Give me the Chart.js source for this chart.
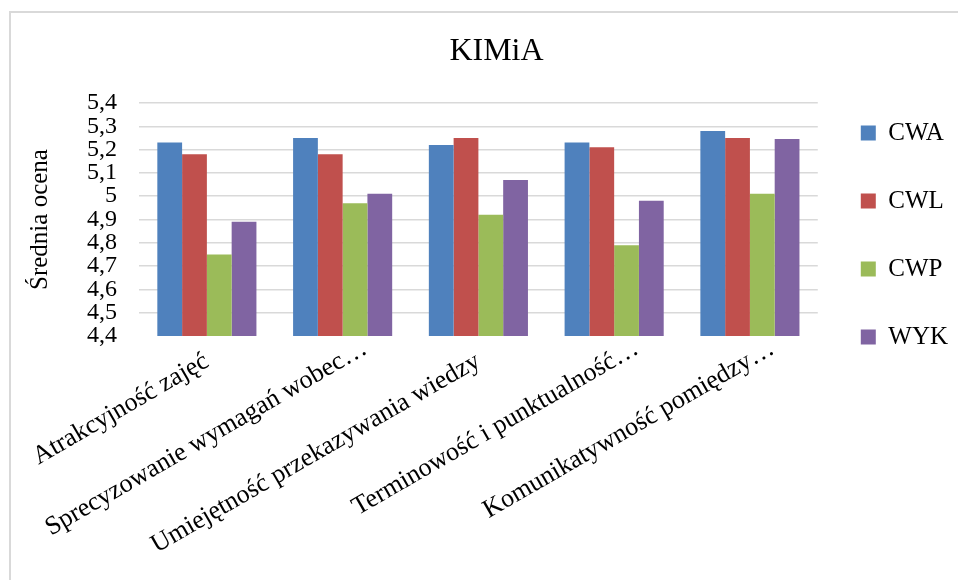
<!DOCTYPE html>
<html>
<head>
<meta charset="utf-8">
<script src="https://cdn.jsdelivr.net/npm/chart.js@4.4.1/dist/chart.umd.min.js"></script>
<style>
  html, body { margin: 0; padding: 0; background: #ffffff; }
  #wrap { width: 958px; height: 580px; position: relative; }
</style>
</head>
<body>
<div id="wrap"><canvas id="c" width="958" height="580"></canvas></div>
<script>
// Categories (survey questions) and the mean score per form of classes
const categories = [
  'Atrakcyjność zajęć',
  'Sprecyzowanie wymagań wobec…',
  'Umiejętność przekazywania wiedzy',
  'Terminowość i punktualność…',
  'Komunikatywność pomiędzy…'
];
const seriesNames = ['CWA', 'CWL', 'CWP', 'WYK'];
const cwa = [5.23, 5.25, 5.22, 5.23, 5.28];
const cwl = [5.18, 5.18, 5.25, 5.21, 5.25];
const cwp = [4.75, 4.97, 4.92, 4.79, 5.01];
const wyk = [4.89, 5.01, 5.07, 4.98, 5.245];
const colors = ['#4F81BD', '#C0504D', '#9BBB59', '#8064A2'];

const serif = '"Liberation Serif", "Times New Roman", serif';

// Light frame around the whole chart, plus white background
const framePlugin = {
  id: 'frame',
  beforeDraw(chart) {
    const ctx = chart.ctx;
    ctx.save();
    ctx.fillStyle = '#ffffff';
    ctx.fillRect(0, 0, chart.width, chart.height);
    ctx.strokeStyle = '#D9D9D9';
    ctx.lineWidth = 2;
    ctx.strokeRect(10, 12, chart.width + 40, chart.height + 40);
    ctx.restore();
  }
};

// Shortened category labels: let the trailing ellipsis hang past the tick,
// so the kept part of the text ends at the category centre
const ellipsisHang = {
  id: 'ellipsisHang',
  beforeDraw(chart) {
    const scale = chart.scales.x;
    const items = scale.getLabelItems();
    const ctx = chart.ctx;
    items.forEach(it => {
      if (typeof it.label === 'string' && it.label.endsWith('…') && !it._hung) {
        ctx.save();
        ctx.font = it.font.string;
        const w = ctx.measureText('…').width;
        ctx.restore();
        const a = it.options.rotation;
        it.options.translation[0] += w * Math.cos(a);
        it.options.translation[1] += w * Math.sin(a);
        it._hung = true;
      }
    });
  }
};

const fmt = v => String(Number(Number(v).toFixed(1))).replace('.', ',');

new Chart(document.getElementById('c'), {
  type: 'bar',
  data: {
    labels: categories,
    datasets: [cwa, cwl, cwp, wyk].map((vals, i) => ({
      label: seriesNames[i],
      data: vals,
      backgroundColor: colors[i],
      borderWidth: 0,
      barPercentage: 1.0,
      categoryPercentage: 0.73
    }))
  },
  options: {
    responsive: false,
    animation: false,
    layout: { padding: { left: 35, right: 0, top: 0, bottom: 0 } },
    plugins: {
      title: {
        display: true,
        text: 'KIMiA',
        color: '#000000',
        font: { family: serif, size: 32, weight: 'normal' },
        padding: { top: 32, bottom: 32.6 }
      },
      legend: {
        display: true,
        position: 'right',
        align: 'start',
        fullSize: true,
        title: {
          display: true,
          text: ' ',
          font: { family: serif, size: 10, lineHeight: 1 },
          padding: { top: 67.5, bottom: 0 }
        },
        labels: {
          color: '#000000',
          font: { family: serif, size: 25 },
          boxWidth: 15,
          boxHeight: 15,
          padding: 43
        }
      },
      tooltip: { enabled: false }
    },
    scales: {
      x: {
        grid: { display: false, drawTicks: false },
        border: { display: false },
        ticks: {
          color: '#000000',
          font: { family: serif, size: 26 },
          minRotation: 30,
          maxRotation: 30,
          autoSkip: false,
          padding: 10
        },
        afterFit(scale) { scale.height = 244; }
      },
      y: {
        min: 4.4,
        max: 5.4,
        grid: {
          drawTicks: false,
          lineWidth: 1.5,
          color: ctx => (ctx.tick && Math.abs(ctx.tick.value - 4.4) < 1e-6) ? 'rgba(0,0,0,0)' : '#D9D9D9'
        },
        border: { display: false },
        ticks: {
          stepSize: 0.1,
          autoSkip: false,
          color: '#000000',
          font: { family: serif, size: 24 },
          padding: 22,
          callback: v => fmt(v)
        },
        title: {
          display: true,
          text: 'Średnia ocena',
          color: '#000000',
          font: { family: serif, size: 25 },
          padding: { top: -10, bottom: 0 }
        },
        afterFit(scale) { scale.width = 104; }
      }
    }
  },
  plugins: [framePlugin, ellipsisHang]
});
</script>
</body>
</html>
